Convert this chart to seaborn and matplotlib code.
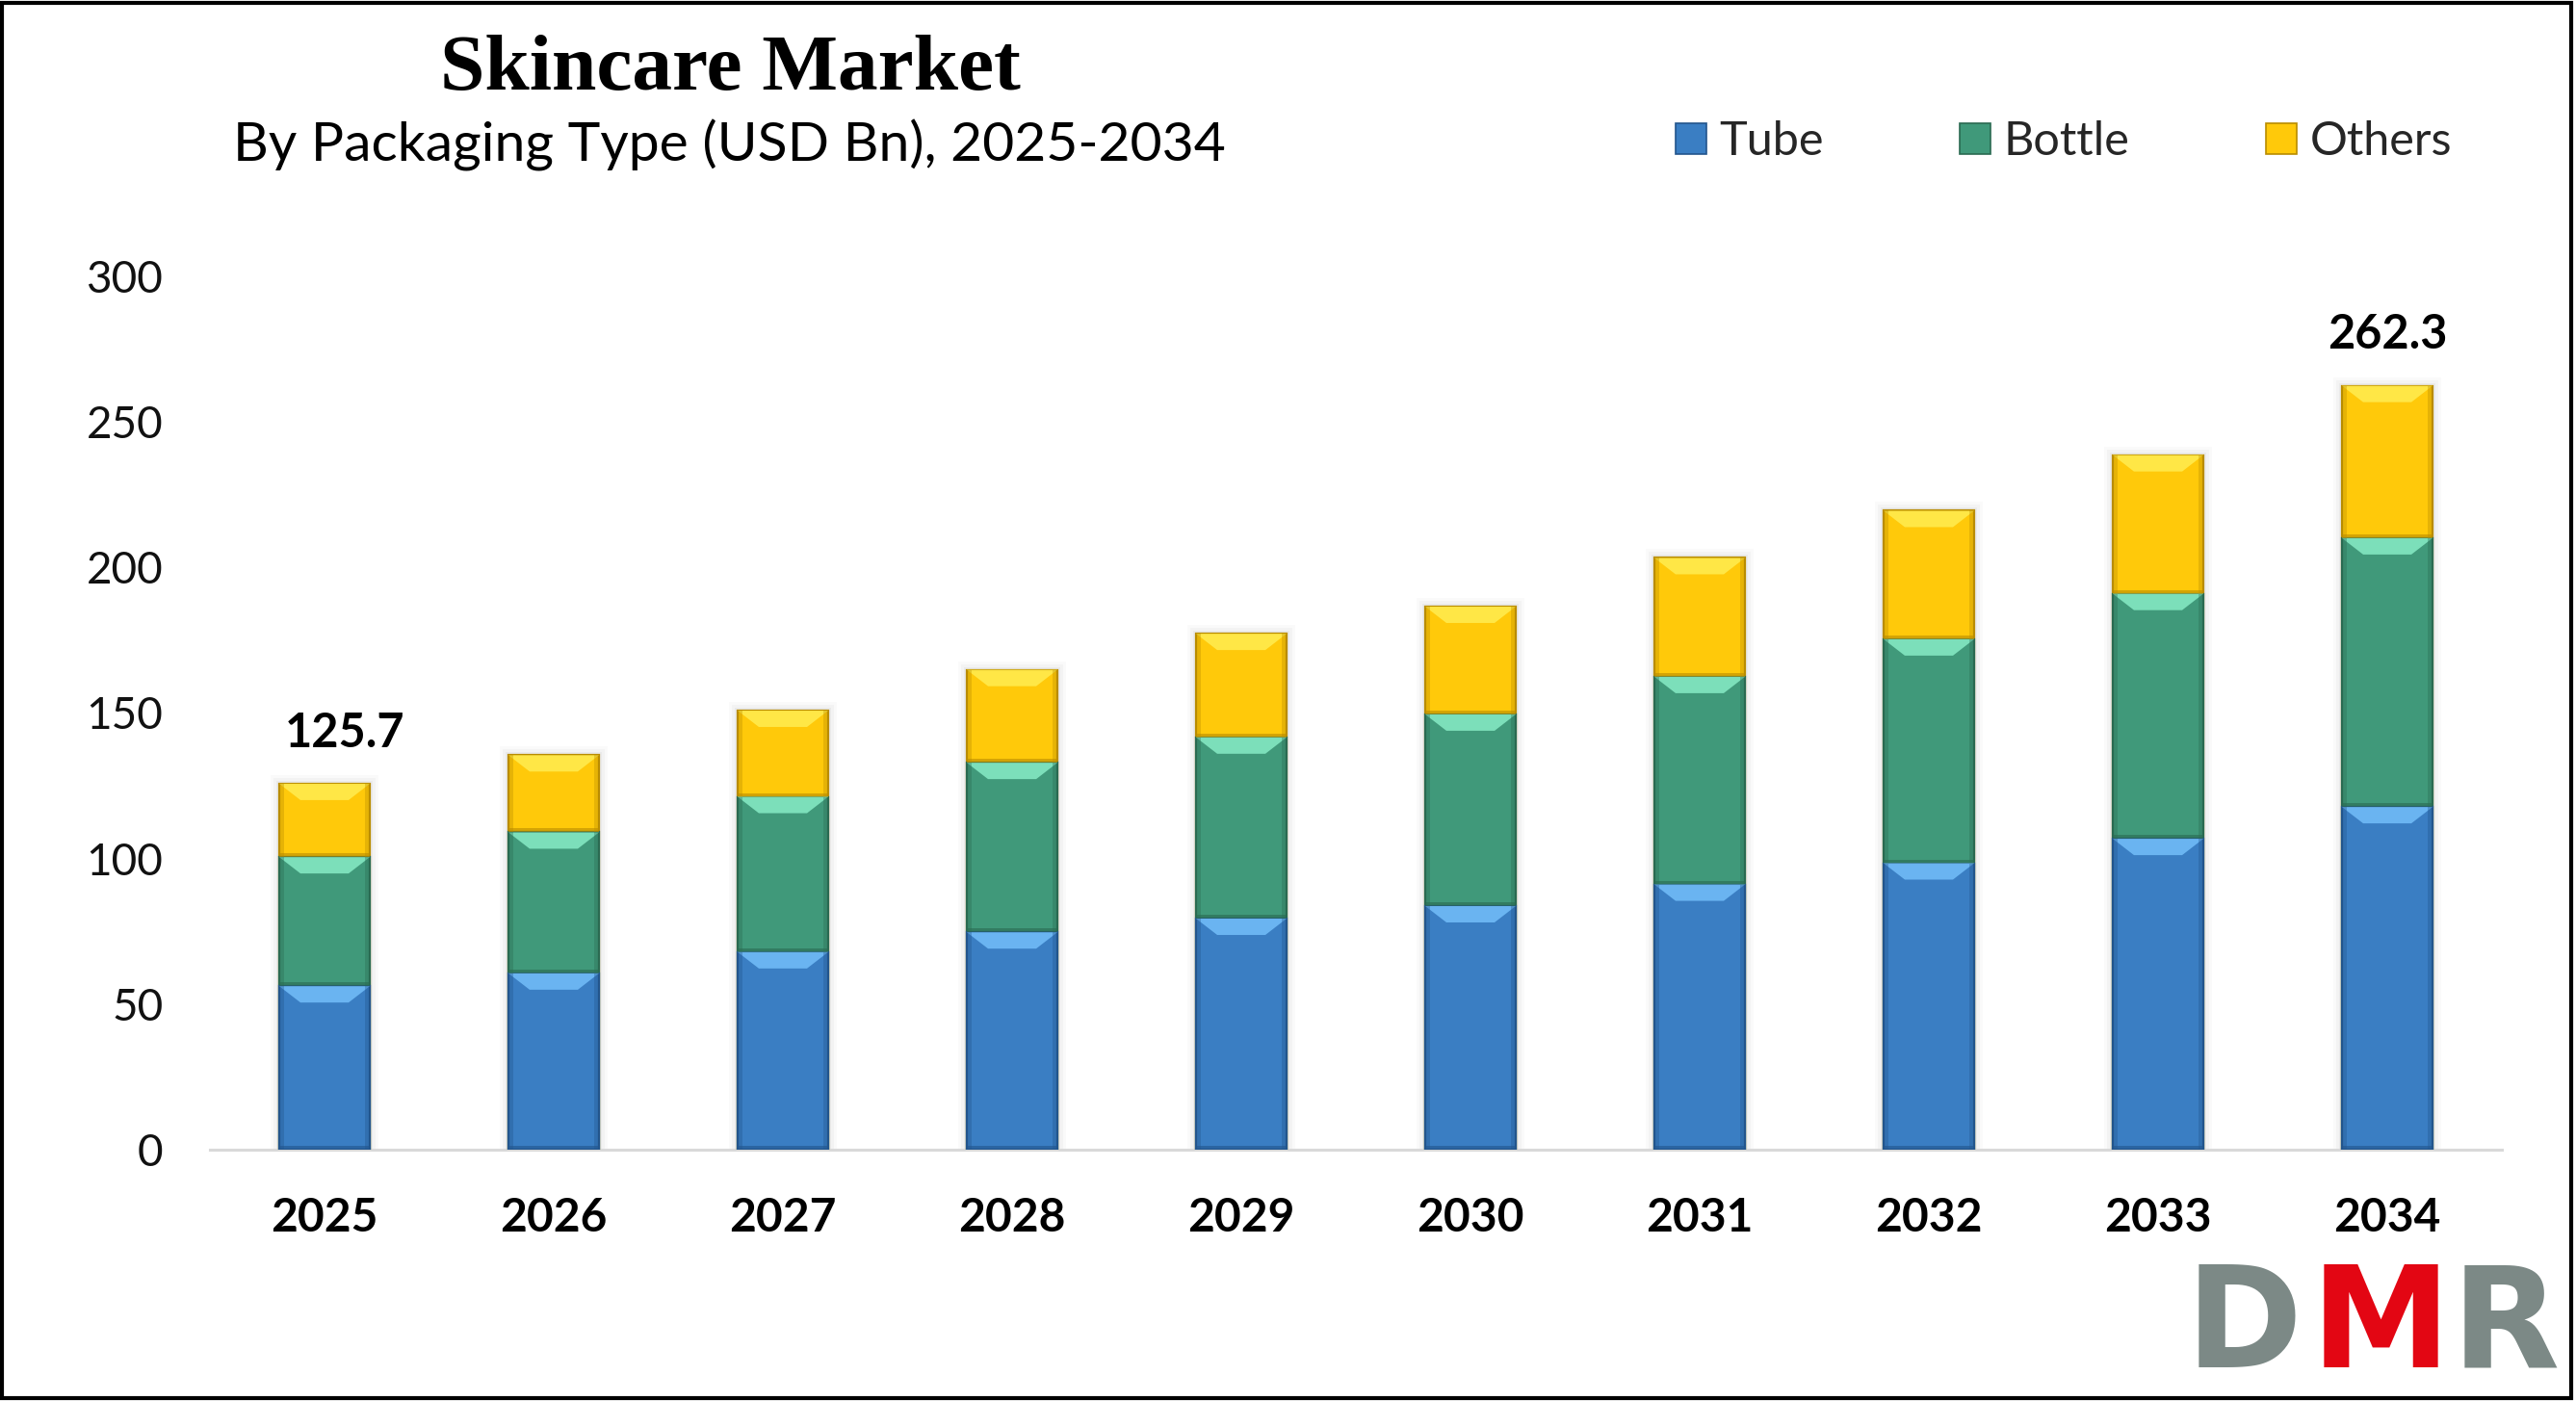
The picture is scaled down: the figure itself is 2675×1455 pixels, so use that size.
import numpy as np
import pandas as pd
import matplotlib
matplotlib.use("Agg")
import matplotlib.pyplot as plt
import seaborn as sns
from matplotlib.patches import Patch, Polygon, Rectangle

# ---------------- data ----------------
years = ["2025", "2026", "2027", "2028", "2029", "2030", "2031", "2032", "2033", "2034"]
tube = [56.2, 60.6, 67.9, 74.7, 79.4, 83.7, 91.1, 98.4, 106.8, 117.7]
bottle = [44.3, 48.4, 53.3, 58.2, 62.2, 65.8, 71.3, 76.9, 84.1, 92.3]
others = [25.2, 26.5, 29.6, 31.9, 35.6, 37.0, 40.8, 44.1, 47.6, 52.3]
series_names = ["Tube", "Bottle", "Others"]
total_labels = {"2025": "125.7", "2034": "262.3"}
y_ticks = [0, 50, 100, 150, 200, 250, 300]

title_text = "Skincare Market"
subtitle_text = "By Packaging Type (USD Bn), 2025-2034"

# ---------------- style ----------------
W, H, DPI = 2675, 1455, 100
sns.set_theme(style="white")
plt.rcParams["font.family"] = ["Lato", "DejaVu Sans"]

main_cols = ["#3A7EC3", "#40997A", "#FFC90A"]
bevel_cols = ["#6DB8F4", "#80E4BE", "#FFE94A"]
edge_cols = ["#22558C", "#2A6A51", "#B98C00"]
label_offsets = {"2025": 15, "2034": 0}

df = pd.DataFrame({"year": years, "Tube": tube, "Bottle": bottle, "Others": others})
df["c1"] = df["Tube"]
df["c2"] = df["Tube"] + df["Bottle"]
df["c3"] = df["c2"] + df["Others"]

fig = plt.figure(figsize=(W / DPI, H / DPI), dpi=DPI, facecolor="white")
ax_left, ax_right = 218 / W, 2598 / W
ax_bottom, ax_top = 1 - 1194.2 / H, 1 - 286.6 / H
ax = fig.add_axes([ax_left, ax_bottom, ax_right - ax_left, ax_top - ax_bottom])

bar_w = 0.395
layers = [("c3", "c2", 2), ("c2", "c1", 1), ("c1", None, 0)]
segments = []
for col, lower, ci in layers:
    n0 = len(ax.patches)
    sns.barplot(data=df, x="year", y=col, color=main_cols[ci], width=bar_w,
                saturation=1, edgecolor=edge_cols[ci], linewidth=1.6, ax=ax,
                errorbar=None, zorder=2)
    new = ax.patches[n0:]
    lows = df[lower].tolist() if lower else [0.0] * len(df)
    for p, lo in zip(new, lows):
        segments.append((p, lo, ci))

ax.set_xlim(-0.5, 9.5)
ax.set_ylim(0, 300)

# bevel / shadow effect derived from the drawn bars
px_per_x = (ax_right - ax_left) * W / 10.0
px_per_y = (ax_top - ax_bottom) * H / 300.0
inset_x = 22 / px_per_x
depth_y = 17 / px_per_y
side_w = 5 / px_per_x
for p, lo, ci in segments:
    x0 = p.get_x()
    w = p.get_width()
    top = p.get_height()
    if ci == 2:
        for k, a in ((9, 0.04), (6, 0.05), (3, 0.07)):
            ax.add_patch(Rectangle((x0 - k / px_per_x, 0), w + 2 * k / px_per_x,
                                   top + k / px_per_y, facecolor="#808080",
                                   edgecolor="none", alpha=a, zorder=1))
    poly = Polygon([(x0, top), (x0 + w, top), (x0 + w - inset_x, top - depth_y),
                    (x0 + inset_x, top - depth_y)], closed=True,
                   facecolor=bevel_cols[ci], edgecolor="none", zorder=3, alpha=0.95)
    ax.add_patch(poly)
    for sx in (x0, x0 + w - side_w):
        ax.add_patch(Rectangle((sx, lo), side_w, top - lo,
                               facecolor=edge_cols[ci], edgecolor="none",
                               alpha=0.35, zorder=3))
    ax.add_patch(Rectangle((x0, lo), w, 4 / px_per_y, facecolor=edge_cols[ci],
                           edgecolor="none", alpha=0.6, zorder=3))

# total labels
for i, y in enumerate(years):
    if y in total_labels:
        ax.annotate(total_labels[y], xy=(i, df["c3"].iloc[i]),
                    xytext=(label_offsets[y], 38),
                    textcoords="offset points", ha="center", va="center",
                    fontsize=35, fontweight="bold", color="black",
                    family=["Lato", "DejaVu Sans"], annotation_clip=False)

# axes styling
for s in ["top", "right", "left"]:
    ax.spines[s].set_visible(False)
ax.spines["bottom"].set_color("#D9D9D9")
ax.spines["bottom"].set_linewidth(2.2)
ax.spines["bottom"].set_zorder(1)
ax.set_yticks(y_ticks)
ax.set_yticklabels([str(v) for v in y_ticks], fontsize=33, color="#111111")
ax.tick_params(axis="y", length=0, pad=35)
ax.tick_params(axis="x", length=0, pad=35)
for lab in ax.get_xticklabels():
    lab.set_fontsize(34.5)
    lab.set_fontweight("bold")
    lab.set_color("black")
ax.set_xlabel("")
ax.set_ylabel("")
ax.grid(False)
ax.set_facecolor("white")

# titles
fig.text(758 / W, 1 - 93 / H, title_text, ha="center", va="baseline",
         family=["Liberation Serif", "DejaVu Serif"], fontweight="bold",
         fontsize=60, color="black")
fig.text(757 / W, 1 - 168 / H, subtitle_text, ha="center", va="baseline",
         fontsize=41, color="black")

# legend
handles = [Patch(facecolor=main_cols[i], edgecolor=edge_cols[i], linewidth=1.2)
           for i in range(3)]
leg = fig.legend(handles, series_names, loc="center left",
                 bbox_to_anchor=(1740 / W, 1 - 147 / H), ncol=3, frameon=False,
                 fontsize=35, handlelength=0.66, handleheight=0.66,
                 handletextpad=0.28, columnspacing=2.9, borderpad=0,
                 borderaxespad=0)

# logo (kept fully inside the frame)
logo_y = 1 - 1450 / H
fig.text(2330 / W, logo_y, "D", ha="center", va="bottom", fontsize=105,
         fontweight="bold", color="#7C8986", family=["DejaVu Sans"])
fig.text(2472 / W, logo_y, "M", ha="center", va="bottom", fontsize=105,
         fontweight="bold", color="#E30613", family=["DejaVu Sans"])
fig.text(2602 / W, logo_y, "R", ha="center", va="bottom", fontsize=105,
         fontweight="bold", color="#7C8986", family=["DejaVu Sans"])

# frame border
fig.patches.append(Rectangle((2 / W, 3 / H), 2668 / W, 1449 / H,
                             transform=fig.transFigure, fill=False,
                             edgecolor="black", linewidth=3.0, zorder=10))

fig.savefig("out.png", dpi=DPI, facecolor="white")
